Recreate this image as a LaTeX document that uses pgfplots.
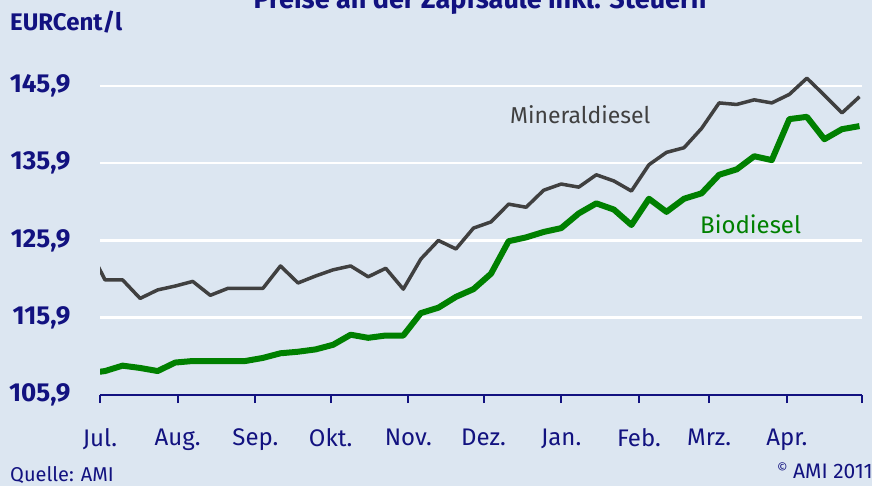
\documentclass[border=0pt]{standalone}
\usepackage{fontspec}
\setmainfont{Fira Sans}
\usepackage{pgfplots}
\pgfplotsset{compat=1.18}
\definecolor{navy}{RGB}{18,18,128}
\definecolor{bg}{RGB}{220,230,241}
\definecolor{mineral}{RGB}{64,64,64}
\definecolor{bio}{RGB}{0,128,0}
\newcommand{\fs}[1]{\fontsize{#1bp}{#1bp}\selectfont}

\begin{document}
\begin{tikzpicture}
\fill[bg] (0bp,0bp) rectangle (872bp,-486bp);
\path[use as bounding box] (0bp,0bp) rectangle (872bp,-486bp);

\begin{axis}[
    at={(100bp,-395bp)}, anchor=south west,
    scale only axis,
    width=762bp, height=340bp,
    xmin=0, xmax=304,
    ymin=105.9, ymax=149.9,
    axis x line*=bottom,
    axis y line*=left,
    x axis line style={navy, line width=2.5bp},
    y axis line style={draw=none},
    xtick={0,31,62,92,123,153,184,215,243,274,304},
    xticklabels={Jul.,Aug.,Sep.,Okt.,Nov.,Dez.,Jan.,Feb.,Mrz.,Apr.,{}},
    ytick={105.9,115.9,125.9,135.9,145.9},
    yticklabels={{105,9},{115,9},{125,9},{135,9},{145,9}},
    tick align=outside,
    major tick length=8bp,
    xtick style={navy, line width=2bp},
    ytick style={draw=none},
    xticklabel style={text=navy, font=\fs{24}, yshift=-22bp},
    yticklabel style={text=navy, font=\bfseries\fs{26}, anchor=east, xshift=-18bp},
    ymajorgrids,
    grid style={white, line width=2.5bp},
]
% Mineraldiesel
\addplot[mineral, line width=3.5bp, line join=round] coordinates {
(-5,125.3) (2,120.8) (9,120.8) (16,118.4) (23,119.5) (30,120.0) (37,120.6)
(44,118.8) (51,119.7) (58,119.7) (65,119.7) (72,122.6) (79,120.4) (86,121.3)
(93,122.1) (100,122.6) (107,121.2) (114,122.3) (121,119.6) (128,123.5)
(135,125.9) (142,124.8) (149,127.5) (156,128.3) (163,130.6) (170,130.2)
(177,132.4) (184,133.2) (191,132.8) (198,134.4) (205,133.6) (212,132.3)
(219,135.7) (226,137.3) (233,137.9) (240,140.4) (247,143.7) (254,143.5)
(261,144.1) (268,143.7) (275,144.8) (282,146.9) (289,144.7) (296,142.4)
(303,144.5)
};
% Biodiesel
\addplot[bio, line width=6bp, line join=round] coordinates {
(-5,108.7) (2,109.0) (9,109.7) (16,109.4) (23,109.0) (30,110.1) (37,110.3)
(44,110.3) (51,110.3) (58,110.3) (65,110.7) (72,111.3) (79,111.5) (86,111.8)
(93,112.4) (100,113.7) (107,113.3) (114,113.6) (121,113.6) (128,116.5)
(135,117.2) (142,118.6) (149,119.6) (156,121.6) (163,125.8) (170,126.3)
(177,127.0) (184,127.5) (191,129.4) (198,130.7) (205,129.9) (212,127.9)
(219,131.3) (226,129.6) (233,131.3) (240,132.0) (247,134.4) (254,135.1)
(261,136.8) (268,136.3) (275,141.6) (282,141.9) (289,139.0) (296,140.3)
(303,140.7)
};
\end{axis}

\node[anchor=base, inner sep=0, text=navy, font=\bfseries\fs{27}] at (480bp,-8bp) {Preise an der Zapfsäule inkl. Steuern};
\node[anchor=base west, inner sep=0, text=navy, font=\bfseries\fs{24}] at (10bp,-30bp) {EURCent/l};
\node[anchor=base west, inner sep=0, text=mineral, font=\fs{23}] at (510bp,-123bp) {Mineraldiesel};
\node[anchor=base west, inner sep=0, text=bio, font=\fs{24}] at (700bp,-233bp) {Biodiesel};
\node[anchor=base west, inner sep=0, text=navy, font=\fs{20}] at (10bp,-481bp) {Quelle: AMI};
\node[anchor=base east, inner sep=0, text=navy, font=\fs{21}] at (873bp,-478bp) {\raisebox{6bp}{\fs{13}©}~AMI 2011};
\end{tikzpicture}
\end{document}
